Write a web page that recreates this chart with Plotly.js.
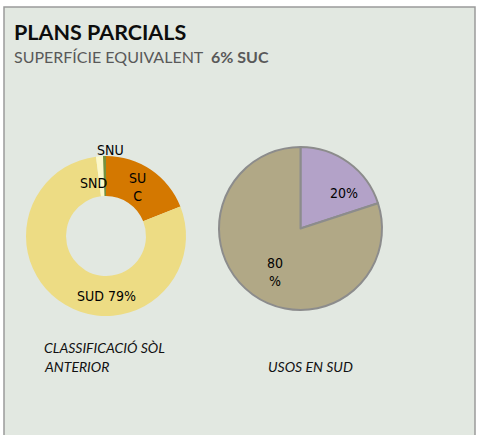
<!DOCTYPE html>
<html>
<head>
<meta charset="utf-8">
<script src="https://cdn.plot.ly/plotly-3.0.1.min.js"></script>
<style>
html,body{margin:0;padding:0;background:#fff;}
#chart{width:477px;height:435px;}
</style>
</head>
<body>
<div id="chart"></div>
<script>
// Data
const classLabels = ["SUC", "SUD", "SND", "SNU"];
const classValues = [19, 79, 1.4, 0.6];
const classText = ["SU<br>C", "SUD 79%", "SND", "SNU"];
const usosLabels = ["Altres", "Resta"];
const usosValues = [20, 80];
const usosText = ["20%", "80<br>%"];

const W = 477, H = 435;
const px = x => x / W;
const py = y => 1 - y / H;
const narrow = "DejaVu Sans Condensed, Liberation Sans Narrow, Arial Narrow, sans-serif";
const body = "Lato, Open Sans, sans-serif";

const traces = [
  {
    type: "pie",
    labels: classLabels,
    values: classValues,
    hole: 0.5,
    sort: false,
    direction: "clockwise",
    rotation: 0,
    textinfo: "none",
    hoverinfo: "label+percent",
    marker: {colors: ["#d47800", "#eddc84", "#fcf8c8", "#76923c"], line: {width: 0}},
    domain: {x: [px(26), px(186)], y: [py(316), py(156)]},
    showlegend: false
  },
  {
    type: "pie",
    labels: usosLabels,
    values: usosValues,
    sort: false,
    direction: "clockwise",
    rotation: 0,
    textinfo: "none",
    hoverinfo: "label+percent",
    marker: {colors: ["#b3a2c8", "#b1a886"], line: {color: "#8c8c8c", width: 2}},
    domain: {x: [px(219), px(382)], y: [py(310), py(147)]},
    showlegend: false
  }
];

const ann = (text, x, y, opts) => Object.assign({
  text: text, x: px(x), y: py(y), xref: "paper", yref: "paper",
  showarrow: false, xanchor: "center", yanchor: "middle",
  font: {family: narrow, size: 14, color: "#000"}
}, opts || {});

const annotations = [
  ann("<b>PLANS PARCIALS</b>", 12, 32, {xanchor: "left", font: {family: body, size: 21.5, color: "#0d0d0d"}}),
  ann("SUPERFÍCIE EQUIVALENT  <b>6% SUC</b>", 12, 56, {xanchor: "left", font: {family: body, size: 16, color: "#595959"}}),
  ann(classText[0], 137, 187),
  ann(classText[1], 106, 296),
  ann(classText[2], 93, 183),
  ann(classText[3], 110, 150),
  ann(usosText[0], 344, 193),
  ann(usosText[1], 275, 272),
  ann("<i>CLASSIFICACIÓ SÒL</i>", 42, 347, {xanchor: "left", font: {family: body, size: 14, color: "#111"}}),
  ann("<i>ANTERIOR</i>", 42, 366, {xanchor: "left", font: {family: body, size: 14, color: "#111"}}),
  ann("<i>USOS EN SUD</i>", 266, 366, {xanchor: "left", font: {family: body, size: 14, color: "#111"}})
];

const layout = {
  width: W, height: H,
  margin: {l: 0, r: 0, t: 0, b: 0},
  paper_bgcolor: "#ffffff",
  plot_bgcolor: "rgba(0,0,0,0)",
  showlegend: false,
  shapes: [{
    type: "rect", xref: "paper", yref: "paper",
    x0: px(4), x1: px(475), y0: py(440), y1: py(7),
    fillcolor: "#e2e8e1", line: {color: "#9a9a9a", width: 1.5}, layer: "below"
  }],
  annotations: annotations
};

Plotly.newPlot("chart", traces, layout, {displayModeBar: false, staticPlot: true});
</script>
</body>
</html>
